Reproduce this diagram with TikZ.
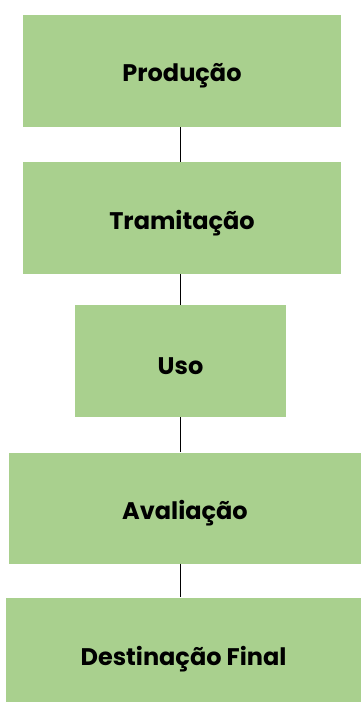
\documentclass[tikz,border=0pt]{standalone}
\usepackage{fontspec}
\setmainfont{Poppins}
\definecolor{boxgreen}{RGB}{169,208,142}
\newcommand{\dn}[2]{\raisebox{-#1}[\height][\depth]{#2}}
\begin{document}
\begin{tikzpicture}[x=1pt,y=-1pt,
  stage/.style={fill=boxgreen, draw=none, inner sep=0pt, font=\fontsize{24}{28}\selectfont\bfseries, text=black},
  link/.style={draw=black, line width=1.6pt}]
\useasboundingbox (0,0) rectangle (361,702);
\node[stage, minimum width=318pt, minimum height=112pt] (p) at (182,71) {\dn{5pt}{Produção}};
\node[stage, minimum width=318pt, minimum height=112pt] (t) at (182,218) {\dn{5pt}{Tramitação}};
\node[stage, minimum width=211pt, minimum height=112pt] (u) at (180.5,361) {\dn{5pt}{Uso}};
\node[stage, minimum width=352pt, minimum height=111pt] (a) at (185,508) {\dn{5pt}{Avaliação}};
\node[stage, minimum width=355pt, minimum height=104pt] (d) at (183.5,649.5) {\dn{10pt}{Destinação Final}};
\draw[link] (p.south -| 180.5,0) -- (t.north -| 180.5,0);
\draw[link] (t.south -| 180.5,0) -- (u.north -| 180.5,0);
\draw[link] (u.south -| 180.5,0) -- (a.north -| 180.5,0);
\draw[link] (a.south -| 180.5,0) -- (d.north -| 180.5,0);
\end{tikzpicture}
\end{document}
